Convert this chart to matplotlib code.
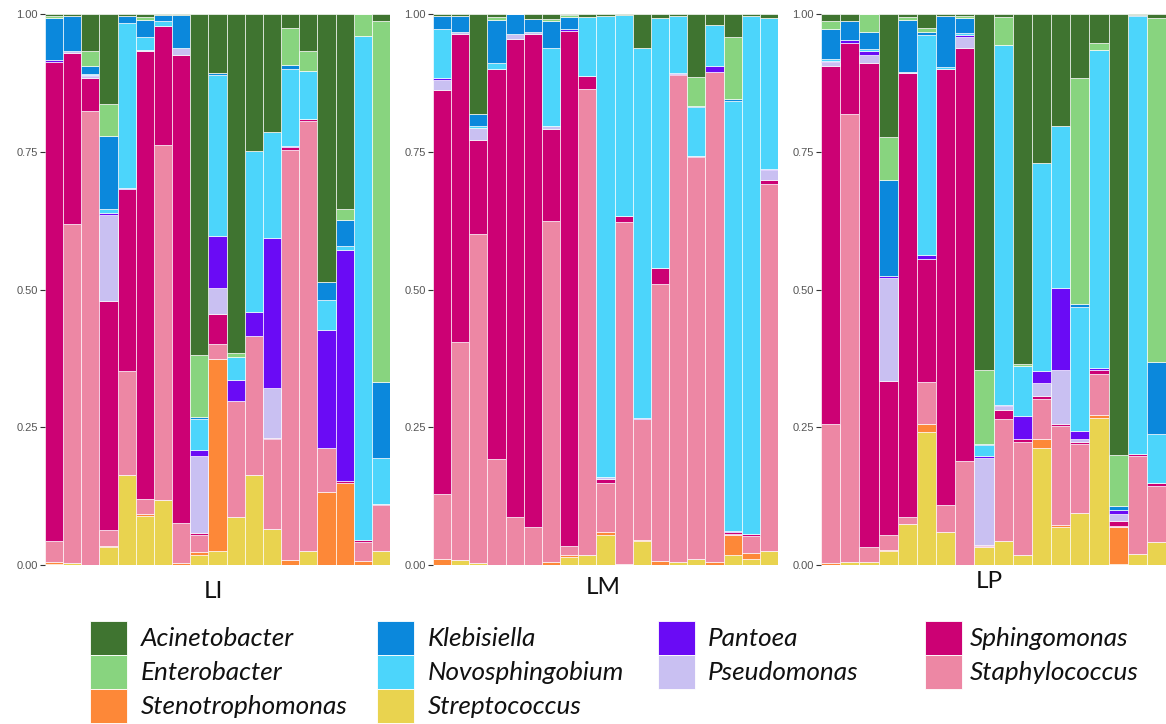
import matplotlib
matplotlib.use("Agg")
import matplotlib.pyplot as plt
from matplotlib.patches import Rectangle
import numpy as np

# Genera in stacking order, bottom of each bar first
GENERA = [
    "Streptococcus", "Stenotrophomonas", "Staphylococcus", "Sphingomonas",
    "Pseudomonas", "Pantoea", "Novosphingobium", "Klebisiella",
    "Enterobacter", "Acinetobacter",
]
COLORS = {
    "Acinetobacter": "#3f7430",
    "Enterobacter": "#88d47f",
    "Klebisiella": "#0b88dc",
    "Novosphingobium": "#4cd5fb",
    "Pantoea": "#6a0bf5",
    "Pseudomonas": "#c9c0f2",
    "Sphingomonas": "#cc0174",
    "Staphylococcus": "#ed87a4",
    "Stenotrophomonas": "#fd8838",
    "Streptococcus": "#e9d34f",
}

# Relative abundances, LI samples
LI_STREPTOCOCCUS = [0.002, 0.003, 0, 0.032, 0.164, 0.089, 0.118, 0, 0.018, 0.025, 0.087, 0.163, 0.066, 0, 0.025, 0, 0, 0, 0.025]
LI_STENOTROPHOMONAS = [0.003, 0, 0, 0.002, 0, 0.004, 0, 0.003, 0.006, 0.349, 0, 0, 0, 0.009, 0, 0.132, 0.148, 0.007, 0]
LI_STAPHYLOCOCCUS = [0.038, 0.616, 0.824, 0.029, 0.188, 0.026, 0.644, 0.074, 0.030, 0.027, 0.210, 0.253, 0.162, 0.745, 0.781, 0.081, 0, 0.035, 0.084]
LI_SPHINGOMONAS = [0.870, 0.310, 0.059, 0.417, 0.330, 0.813, 0.217, 0.848, 0.004, 0.054, 0, 0, 0.003, 0.004, 0.003, 0, 0.004, 0.003, 0.002]
LI_PSEUDOMONAS = [0, 0.003, 0.004, 0.156, 0, 0.003, 0, 0.013, 0.140, 0.047, 0, 0, 0.091, 0, 0, 0, 0, 0, 0]
LI_PANTOEA = [0.003, 0, 0.003, 0.003, 0.003, 0, 0, 0, 0.010, 0.095, 0.039, 0.043, 0.272, 0.002, 0, 0.213, 0.420, 0, 0]
LI_NOVOSPHINGOBIUM = [0, 0, 0.002, 0.007, 0.298, 0.023, 0.008, 0, 0.057, 0.292, 0.041, 0.293, 0.192, 0.140, 0.087, 0.055, 0.007, 0.915, 0.084]
LI_KLEBISIELLA = [0.076, 0.065, 0.013, 0.132, 0.013, 0.031, 0.012, 0.061, 0.003, 0.004, 0, 0, 0, 0.007, 0, 0.033, 0.047, 0, 0.137]
LI_ENTEROBACTER = [0.004, 0, 0.028, 0.059, 0, 0.006, 0, 0, 0.113, 0, 0.007, 0, 0, 0.068, 0.036, 0, 0.020, 0.040, 0.655]
LI_ACINETOBACTER = [0.004, 0.003, 0.067, 0.163, 0.004, 0.005, 0.001, 0.001, 0.619, 0.107, 0.616, 0.248, 0.214, 0.025, 0.068, 0.486, 0.354, 0, 0.013]

# Relative abundances, LM samples
LM_STREPTOCOCCUS = [0, 0.009, 0.003, 0, 0, 0, 0, 0.015, 0.018, 0.055, 0.002, 0.044, 0, 0.006, 0.011, 0, 0.018, 0.011, 0.025]
LM_STENOTROPHOMONAS = [0.011, 0, 0, 0, 0, 0, 0.005, 0.003, 0, 0.005, 0, 0.002, 0.007, 0, 0, 0.005, 0.037, 0.010, 0]
LM_STAPHYLOCOCCUS = [0.118, 0.395, 0.597, 0.193, 0.087, 0.069, 0.619, 0.017, 0.846, 0.089, 0.621, 0.219, 0.503, 0.883, 0.729, 0.890, 0.002, 0.032, 0.666]
LM_SPHINGOMONAS = [0.733, 0.560, 0.172, 0.707, 0.868, 0.895, 0.168, 0.935, 0.024, 0.007, 0.010, 0, 0.029, 0.003, 0.003, 0, 0.002, 0.003, 0.007]
LM_PSEUDOMONAS = [0.019, 0.003, 0.021, 0, 0.009, 0.003, 0.005, 0, 0, 0.003, 0, 0, 0, 0, 0, 0, 0, 0, 0.019]
LM_PANTOEA = [0.002, 0, 0, 0, 0, 0, 0, 0.003, 0, 0, 0, 0.002, 0, 0.001, 0, 0.010, 0.003, 0, 0.002]
LM_NOVOSPHINGOBIUM = [0.090, 0, 0.003, 0.011, 0, 0, 0.141, 0, 0.107, 0.838, 0.365, 0.672, 0.453, 0.104, 0.088, 0.075, 0.781, 0.940, 0.273]
LM_KLEBISIELLA = [0.024, 0.030, 0.022, 0.078, 0.036, 0.024, 0.050, 0.022, 0, 0, 0, 0, 0, 0, 0.002, 0, 0.002, 0, 0]
LM_ENTEROBACTER = [0, 0, 0, 0.005, 0, 0, 0.003, 0.003, 0, 0, 0, 0, 0, 0, 0.053, 0, 0.113, 0, 0]
LM_ACINETOBACTER = [0.003, 0.003, 0.182, 0.006, 0, 0.009, 0.009, 0.002, 0.005, 0.003, 0.002, 0.061, 0.008, 0.003, 0.114, 0.020, 0.042, 0.004, 0.008]

# Relative abundances, LP samples
LP_STREPTOCOCCUS = [0, 0.005, 0.005, 0.025, 0.075, 0.242, 0.060, 0, 0.032, 0.043, 0.019, 0.213, 0.069, 0.095, 0.267, 0.002, 0.020, 0.042]
LP_STENOTROPHOMONAS = [0.003, 0, 0, 0.003, 0, 0.013, 0, 0, 0, 0, 0, 0.015, 0.003, 0, 0.006, 0.067, 0, 0]
LP_STAPHYLOCOCCUS = [0.252, 0.814, 0.027, 0.027, 0.012, 0.077, 0.049, 0.189, 0.002, 0.222, 0.204, 0.074, 0.181, 0.125, 0.073, 0.002, 0.178, 0.102]
LP_SPHINGOMONAS = [0.650, 0.129, 0.879, 0.279, 0.806, 0.223, 0.791, 0.749, 0.002, 0.016, 0.005, 0.005, 0.003, 0.003, 0.008, 0.008, 0.003, 0.004]
LP_PSEUDOMONAS = [0.008, 0, 0.015, 0.186, 0.002, 0, 0, 0.020, 0.158, 0.007, 0, 0.023, 0.098, 0.005, 0, 0.013, 0, 0]
LP_PANTOEA = [0.002, 0.004, 0.006, 0.005, 0, 0.007, 0, 0.003, 0.003, 0.002, 0.042, 0.022, 0.148, 0.016, 0.003, 0.007, 0, 0]
LP_NOVOSPHINGOBIUM = [0.004, 0, 0.004, 0, 0, 0.400, 0.003, 0.005, 0.021, 0.654, 0.091, 0.378, 0.294, 0.224, 0.578, 0, 0.796, 0.090]
LP_KLEBISIELLA = [0.053, 0.035, 0.032, 0.173, 0.094, 0.006, 0.094, 0.026, 0.002, 0, 0, 0, 0, 0.005, 0, 0.008, 0.001, 0.131]
LP_ENTEROBACTER = [0.015, 0, 0.032, 0.079, 0.006, 0.007, 0, 0.005, 0.134, 0.050, 0.003, 0, 0, 0.410, 0.012, 0.092, 0, 0.623]
LP_ACINETOBACTER = [0.013, 0.013, 0, 0.223, 0.005, 0.025, 0.003, 0.003, 0.646, 0.006, 0.636, 0.270, 0.204, 0.117, 0.053, 0.801, 0.002, 0.008]

PANELS = {
    "LI": [LI_STREPTOCOCCUS, LI_STENOTROPHOMONAS, LI_STAPHYLOCOCCUS, LI_SPHINGOMONAS, LI_PSEUDOMONAS,
           LI_PANTOEA, LI_NOVOSPHINGOBIUM, LI_KLEBISIELLA, LI_ENTEROBACTER, LI_ACINETOBACTER],
    "LM": [LM_STREPTOCOCCUS, LM_STENOTROPHOMONAS, LM_STAPHYLOCOCCUS, LM_SPHINGOMONAS, LM_PSEUDOMONAS,
           LM_PANTOEA, LM_NOVOSPHINGOBIUM, LM_KLEBISIELLA, LM_ENTEROBACTER, LM_ACINETOBACTER],
    "LP": [LP_STREPTOCOCCUS, LP_STENOTROPHOMONAS, LP_STAPHYLOCOCCUS, LP_SPHINGOMONAS, LP_PSEUDOMONAS,
           LP_PANTOEA, LP_NOVOSPHINGOBIUM, LP_KLEBISIELLA, LP_ENTEROBACTER, LP_ACINETOBACTER],
}

# legend columns, as laid out under the panels
LEGEND_COLUMNS = [
    ["Acinetobacter", "Enterobacter", "Stenotrophomonas"],
    ["Klebisiella", "Novosphingobium", "Streptococcus"],
    ["Pantoea", "Pseudomonas"],
    ["Sphingomonas", "Staphylococcus"],
]

W, H = 1166, 724
TEXT_FONT = ["Lato", "DejaVu Sans"]


def px(x, y):
    """Pixel position -> figure fraction."""
    return x / W, 1 - y / H


def draw_panel(ax, columns):
    data = np.array(columns, dtype=float)
    data = data / data.sum(axis=0)
    n = data.shape[1]
    x = np.arange(n)
    bottom = np.zeros(n)
    for genus, values in zip(GENERA, data):
        ax.bar(x, values, bottom=bottom, width=1.0, color=COLORS[genus],
               edgecolor="white", linewidth=0.45)
        bottom += values
    ax.set_xlim(-0.5, n - 0.5)
    ax.set_ylim(0, 1)
    ax.set_xticks([])
    ax.set_yticks([0, 0.25, 0.5, 0.75, 1.0])
    ax.set_yticklabels(["0.00", "0.25", "0.50", "0.75", "1.00"])
    ax.tick_params(axis="y", length=3.5, width=0.8, color="#333333", pad=1.5,
                   labelsize=8, labelcolor="#555555")
    for label in ax.get_yticklabels():
        label.set_family("Liberation Sans")
    for spine in ax.spines.values():
        spine.set_visible(False)


fig = plt.figure(figsize=(W / 100, H / 100), dpi=100)

panel_left = [45, 433, 821]
panel_width = 345
axes_top, axes_bottom = 14, 565
title_pos = [(213, 591), (603, 588), (989, 582)]

for (name, columns), left, (tx, ty) in zip(PANELS.items(), panel_left, title_pos):
    x0, y0 = px(left, axes_bottom)
    ax = fig.add_axes([x0, y0, panel_width / W, (axes_bottom - axes_top) / H])
    draw_panel(ax, columns)
    fig.text(*px(tx, ty), name, ha="center", va="center", fontsize=17.5,
             family=TEXT_FONT, color="#111111")

# legend: colour squares stacked in columns with italic genus names
patch_left = [90, 377, 658, 925]
text_left = [141, 428, 708, 970]
patch_top, row_h, patch_w = 621, 34, 37
for col, pl, tl in zip(LEGEND_COLUMNS, patch_left, text_left):
    for row, genus in enumerate(col):
        top = patch_top + row * row_h
        fx, fy = px(pl, top + row_h)
        fig.add_artist(Rectangle((fx, fy), patch_w / W, row_h / H,
                                 transform=fig.transFigure, facecolor=COLORS[genus],
                                 edgecolor="white", linewidth=0.6))
        fig.text(*px(tl, top + row_h / 2), genus, ha="left", va="center",
                 fontsize=18.8, style="italic", family=TEXT_FONT, color="#111111")

fig.savefig("out.png", dpi=100, facecolor="white")
plt.close(fig)
